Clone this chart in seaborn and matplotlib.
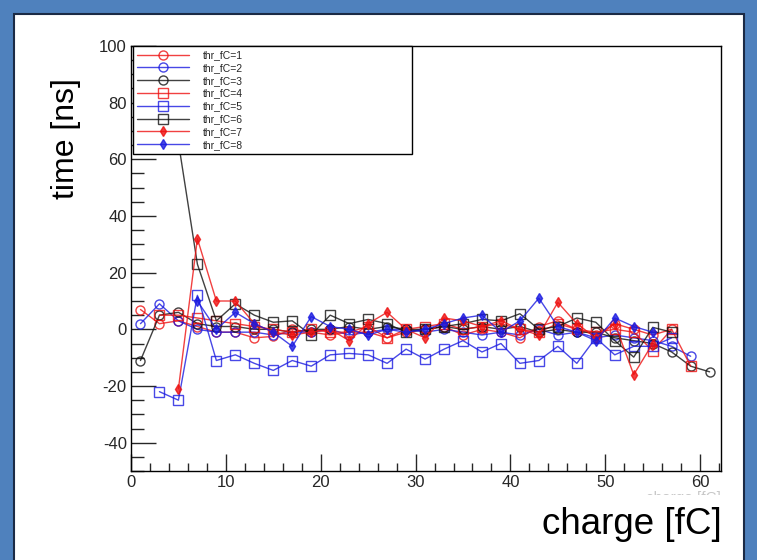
import numpy as np
import pandas as pd
import matplotlib
matplotlib.use("Agg")
import matplotlib.pyplot as plt
from matplotlib.patches import Rectangle
from matplotlib.ticker import MultipleLocator
import seaborn as sns

nan = np.nan
charge = [1, 3, 5, 7, 9, 11, 13, 15, 17, 19, 21, 23, 25, 27, 29, 31,
          33, 35, 37, 39, 41, 43, 45, 47, 49, 51, 53, 55, 57, 59, 61]

thr1 = [7, 2, 3, 1, -1, -1, -3, -2.5, 0, -1, -2, -1, -1, -3, -1, 0,
        1, -2, 0, -1, -3, 1, 3, 0, -2, 2, 0, -2, 0, nan, nan]
thr2 = [2, 9, 3, 0, -1, -1, -1, -2, -1, -1, 0, -2, -1, 0, 0, -1,
        0, -1, -2, -1, -2, 0, -2, -1, -3, -2, -3, -4, -6, -9.5, nan]
thr3 = [-11, 5, 6, 2, 1, 1, 0, 0, -1, 0, 0, 1, 0, 1, 0, 0,
        1, 0, 1, 0, 1, -1, 0, -1, -1, -3, -4, -5, -8, -13, -15]
thr4 = [nan, 5, 5, 4, 3, 2, 1, 0, -1, 0, -1, -1, 1, -3, 0, 1,
        2, 0, 1, 2, 0, -1, 2, 0, -1, 0, -1, -7.5, 0, -13, nan]
thr5 = [nan, -22, -25, 12, -11, -9, -12, -14.5, -11, -13, -9, -8.5, -9, -12, -7, -10.5,
        -7, -4, -8, -5, -12, -11, -6, -12, -3, -9, -6, -6, -3, nan, nan]
thr6 = [nan, nan, 66, 23, 3, 9, 5, 2.5, 3, -2, 5, 2, 3.5, 2, -1, 0,
        1, 2, 3.5, 3, 5.5, 0, 1, 4, 2.5, -4, -9.8, 0.7, -1, nan, nan]
thr7 = [nan, nan, -21, 32, 10, 10, 2, -1, -2, -1, 0, -4, 2, 6, 0, -3,
        4, 3, 1, 3, 0, -2, 9.5, 2, -3, 2, -16, -5, nan, nan, nan]
thr8 = [nan, nan, nan, 10, 0, 6, 2, -1, -6, 4.5, 1, 0, -2, 0, -1, 0,
        2, 4, 5, -1, 3, 11, 1, -1, -4, 4, 1, -1, nan, nan, nan]

labels = ["thr_fC=1", "thr_fC=2", "thr_fC=3", "thr_fC=4",
          "thr_fC=5", "thr_fC=6", "thr_fC=7", "thr_fC=8"]
series = [thr1, thr2, thr3, thr4, thr5, thr6, thr7, thr8]
colors = ["#ee1111", "#1a1ae0", "#111111", "#ee1111",
          "#1a1ae0", "#111111", "#ee1111", "#1a1ae0"]
markers = ["o", "o", "o", "s", "s", "s", "d", "d"]
filled = [False, False, False, False, False, False, True, True]

W, H = 757, 560
fig = plt.figure(figsize=(W / 100, H / 100), dpi=100)
sns.set_style("ticks")
plt.rcParams["font.family"] = ["Liberation Sans", "DejaVu Sans"]
plt.rcParams["axes.unicode_minus"] = False
fig.patch.set_facecolor("#4f81bd")
fig.patches.append(Rectangle((14 / W, -0.01), (744 - 14) / W, 1 - 14 / H + 0.01,
                             transform=fig.transFigure, facecolor="white",
                             edgecolor="#1b2a45", linewidth=1.5, zorder=-5))

ax = fig.add_axes([131 / W, 1 - 471 / H, (721 - 131) / W, (471 - 46) / H])
ax.set_zorder(2)
ax.set_facecolor("white")

for ys, lab, c, m, f in zip(series, labels, colors, markers, filled):
    df = pd.DataFrame({"charge": charge, "time": ys}).dropna()
    sns.lineplot(data=df, x="charge", y="time", ax=ax, color=c, marker=m,
                 markersize=(5.5 if f else 6.5), markeredgewidth=1.0,
                 markerfacecolor=(c if f else "none"), markeredgecolor=c,
                 linewidth=1.0, alpha=0.8, label=lab, errorbar=None)

ax.set_xlim(0, 62.2)
ax.set_ylim(-50, 100)
ax.xaxis.set_major_locator(MultipleLocator(10))
ax.xaxis.set_minor_locator(MultipleLocator(2))
ax.yaxis.set_major_locator(MultipleLocator(20))
ax.yaxis.set_minor_locator(MultipleLocator(5))
ax.tick_params(axis="y", which="major", direction="in", length=18, width=1,
               labelsize=12, pad=3, right=False)
ax.tick_params(axis="y", which="minor", direction="in", length=9, width=1, right=False)
ax.tick_params(axis="x", which="major", direction="in", length=12, width=1,
               labelsize=12, pad=3, top=False)
ax.tick_params(axis="x", which="minor", direction="in", length=6, width=1, top=False)
for sp in ax.spines.values():
    sp.set_visible(True)
    sp.set_color("black")
    sp.set_linewidth(1.0)
ax.set_xlabel("")
ax.set_ylabel("")

leg = ax.legend(loc="upper left", bbox_to_anchor=(0.003, 1.0, 0.473, 0.0),
                mode="expand", fontsize=7.5, frameon=True, fancybox=False,
                edgecolor="black", framealpha=1.0, borderaxespad=0.0,
                borderpad=0.4, labelspacing=0.27, handlelength=5.0,
                handletextpad=1.3)
leg.get_frame().set_linewidth(1.0)

fig.text(66 / W, 1 - 139 / H, "time [ns]", rotation=90, ha="center", va="center",
         fontsize=23, color="black")
fig.text(722 / W, 1 - 525 / H, "charge [fC]", ha="right", va="center",
         fontsize=26.5, color="black")

# faint, clipped original axis title under the axis
t = fig.text(721 / W, 1 - 498 / H, "charge [fC]", ha="right", va="center",
             fontsize=11, color="#c8c8c8")
clip = Rectangle((600 / W, 1 - 495 / H), 125 / W, 8 / H, transform=fig.transFigure,
                 facecolor="none", edgecolor="none")
fig.patches.append(clip)
t.set_clip_path(clip)

fig.savefig("out.png", dpi=100, facecolor=fig.get_facecolor())
